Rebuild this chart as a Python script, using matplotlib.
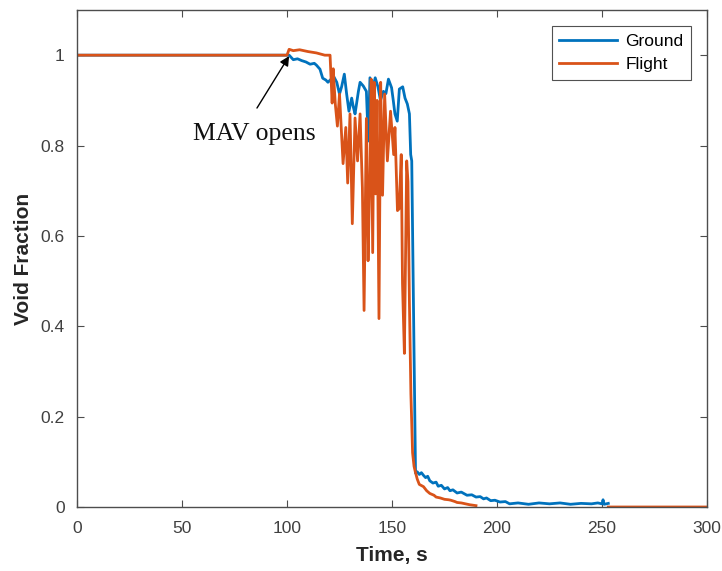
import numpy as np
import matplotlib
matplotlib.use("Agg")
import matplotlib.pyplot as plt

# ---------------- data ----------------
ground_t = [0, 100, 101, 102, 103, 105, 107, 109, 111, 113, 114, 115.7, 117, 118.5, 119.5, 121, 122, 123.7, 125,
            126, 127.3, 128.4, 129.5, 130.8, 131.6, 132.4, 133.2, 134, 134.8, 136.3, 137.8, 138.7, 139.5,
            141, 142, 143.3, 144.5, 145.9, 147.1, 148.3, 149.8, 150.6, 151.4, 152.5, 153.5,
            155.1, 156.2, 157.3, 158.3, 158.9, 159.4, 160.5, 161.2, 162, 163, 164, 165, 166, 167,
            168, 169.5, 171, 172, 173.5, 175, 176.5, 177.6, 179, 181, 183, 185.7, 188, 190, 192,
            193.6, 195, 197, 199, 201.4, 204, 206, 210, 215, 220, 225, 230, 235, 240, 245, 248,
            250, 250.5, 251, 253]
ground_v = [1.0, 1.0, 1.0, 0.995, 0.99, 0.992, 0.988, 0.985, 0.98, 0.982, 0.978, 0.969, 0.949, 0.945, 0.94, 0.947, 0.955, 0.94, 0.914,
            0.93, 0.958, 0.914, 0.876, 0.905, 0.885, 0.87, 0.895, 0.92, 0.94, 0.932, 0.92, 0.81, 0.95,
            0.93, 0.95, 0.93, 0.90, 0.92, 0.915, 0.947, 0.928, 0.90, 0.87, 0.854, 0.925,
            0.93, 0.905, 0.892, 0.87, 0.78, 0.766, 0.34, 0.075, 0.078, 0.072, 0.076, 0.07, 0.065, 0.068,
            0.058, 0.053, 0.055, 0.046, 0.048, 0.04, 0.043, 0.036, 0.038, 0.031, 0.033, 0.026, 0.027, 0.022, 0.023,
            0.018, 0.02, 0.014, 0.015, 0.011, 0.012, 0.007, 0.009, 0.006, 0.009, 0.007, 0.009, 0.006, 0.008, 0.007, 0.009,
            0.007, 0.016, 0.006, 0.008]

flight_t = [0, 100, 101, 103, 106, 110, 114, 118, 120.5, 121.5, 122, 122.5, 123, 124, 125,
            126.7, 128, 128.9, 130, 131.1, 132.4, 133.6, 134.8, 135.9, 136.7, 137.8, 138.6,
            139.4, 140.1, 140.8, 141.5, 142.2, 142.9, 143.8, 144.6, 145.5, 146.5, 147.8, 149.3,
            150.8, 151.4, 152.6, 153.4, 154.4, 155.0, 155.9, 157.0, 157.6, 158.3, 159.0, 159.8, 160.5,
            161, 162, 163, 165, 166.5, 168, 170, 171, 173, 175, 177, 178, 180, 181, 183, 184, 187, 190,
            190.5, 253, 300]
flight_v = [1.0, 1.0, 1.013, 1.01, 1.012, 1.008, 1.005, 1.0, 1.0, 0.894, 0.97, 0.93, 0.892, 0.843, 0.914,
            0.76, 0.84, 0.717, 0.87, 0.627, 0.861, 0.766, 0.87, 0.706, 0.435, 0.86, 0.545,
            0.72, 0.947, 0.563, 0.94, 0.693, 0.90, 0.417, 0.94, 0.69, 0.914, 0.766, 0.876,
            0.78, 0.84, 0.656, 0.66, 0.78, 0.495, 0.34, 0.766, 0.72, 0.45, 0.25, 0.12, 0.09,
            0.08, 0.062, 0.05, 0.045, 0.036, 0.03, 0.026, 0.022, 0.02, 0.017, 0.016, 0.015, 0.012, 0.01, 0.009, 0.008, 0.005, 0.003,
            np.nan, 0.0, 0.0]

x_ticks = [0, 50, 100, 150, 200, 250, 300]
y_ticks = [0, 0.2, 0.4, 0.6, 0.8, 1.0]
y_tick_labels = ["0", "0.2", "0.4", "0.6", "0.8", "1"]

# ---------------- plot ----------------
plt.rcParams['font.family'] = ['Liberation Sans', 'DejaVu Sans']
fig = plt.figure(figsize=(7.22, 5.71), dpi=100)
ax = fig.add_axes([77/722, 64/571, 630/722, 497/571])

blue = '#0072BD'
orange = '#D95319'
ax.plot(ground_t, ground_v, color=blue, lw=2.0, label='Ground')
ax.plot(flight_t, flight_v, color=orange, lw=2.0, label='Flight')

ax.set_xlim(0, 300)
ax.set_ylim(0, 1.1)
ax.set_xticks(x_ticks)
ax.set_yticks(y_ticks)
ax.set_yticklabels(y_tick_labels)

axcol = '#4d4d4d'
for s in ax.spines.values():
    s.set_color(axcol)
    s.set_linewidth(1.0)
ax.tick_params(direction='in', length=5, width=0.8, colors=axcol,
               labelsize=12.5, labelcolor='#404040', top=True, right=True,
               labeltop=False, labelright=False)
ax.tick_params(axis='x', pad=10)
ax.tick_params(axis='y', pad=9)

ax.set_xlabel('Time, s', fontsize=15, fontweight='bold', color='#262626', labelpad=7)
ax.set_ylabel('Void Fraction', fontsize=15, fontweight='bold', color='#262626', labelpad=5)

ax.text(84.3, 0.826, 'MAV opens', fontsize=18.5, family=['Liberation Serif'],
        ha='center', va='center', color='#111111')
ax.annotate('', xy=(101, 0.998), xytext=(85.7, 0.883),
            arrowprops=dict(arrowstyle='-|>', color='black', lw=1.0,
                            shrinkA=0, shrinkB=0, mutation_scale=14))

leg = ax.legend(loc='upper right', fontsize=12.5, frameon=True, fancybox=False,
                edgecolor='#262626', borderpad=0.45, handlelength=3.3,
                labelspacing=0.5, handletextpad=0.5, borderaxespad=0.9)
leg.get_frame().set_linewidth(0.8)

fig.savefig('out.png', dpi=100)
